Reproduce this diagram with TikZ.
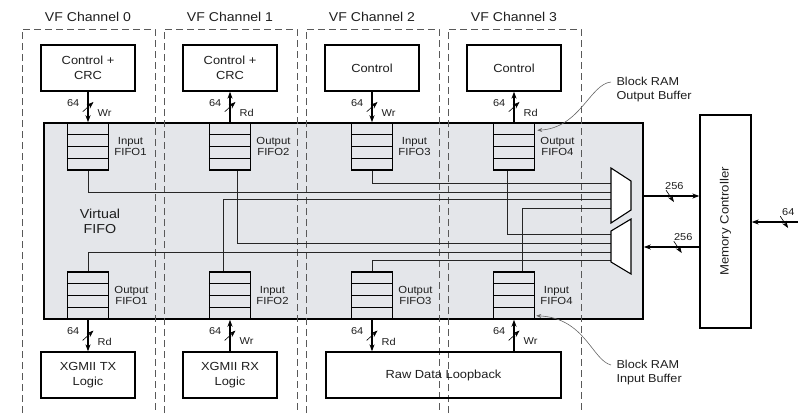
\documentclass[tikz,border=0pt]{standalone}
\usepackage{fontspec}
\setmainfont{Liberation Sans}[FakeStretch=1.1]
\usetikzlibrary{calc,positioning,arrows.meta}
\definecolor{vfgray}{RGB}{228,230,234}
\definecolor{ink}{RGB}{30,30,30}

\begin{document}
\begin{tikzpicture}[x=1pt,y=-1pt,
    every node/.style={text=ink},
    blk/.style={draw=black, line width=1.3pt, minimum width=94pt, minimum height=46pt, align=center, font=\fontsize{11.7}{15}\selectfont},
    fifo/.style={draw=black, line width=1.5pt, minimum width=41pt, minimum height=47pt, inner sep=0pt},
    fifolbl/.style={align=center, inner sep=1pt, font=\fontsize{10.3}{11.5}\selectfont},
    bus/.style={line width=1.4pt, -{Stealth[length=7pt,width=5pt]}},
    wire/.style={black!85, line width=0.75pt},
    num/.style={inner sep=0pt, font=\fontsize{10}{12}\selectfont},
    wlft/.style={num, anchor=east, xshift=-8pt, yshift=4pt},
    wrgt/.style={num, anchor=west, xshift=9pt, yshift=-6pt},
    slash/.style={minimum width=11pt, minimum height=10pt, inner sep=0pt, path picture={\draw[line width=.6pt] (path picture bounding box.south west) -- (path picture bounding box.north east);}},
    hslash/.style={minimum width=8pt, minimum height=12pt, inner sep=0pt, path picture={\draw[line width=.6pt] (path picture bounding box.north west) -- (path picture bounding box.south east);}},
    chan/.style={black!65, line width=1pt, dash pattern=on 7pt off 4pt},
    note/.style={black!60, line width=0.6pt, -{Stealth[length=5pt,width=4pt]}}]
\useasboundingbox (0,0) rectangle (798,413);
\def \dx {142}

\node[draw=black, fill=vfgray, line width=1.6pt, minimum width=599pt, minimum height=196pt, inner sep=0pt] (vfifo) at (343.5,221) {};
\node[align=center, font=\fontsize{13}{15}\selectfont] (vlbl) at (100,221) {Virtual\\FIFO};

% channel frames
\foreach \i in {0,...,3}
{
\draw[chan] (88+\dx*\i-66,413) -- (88+\dx*\i-66,29) -- (88+\dx*\i+67,29) -- (88+\dx*\i+67,413);
\node[font=\fontsize{12.8}{14}\selectfont] (title\i) at (88+\dx*\i,17) {VF Channel \i};
}

\node[blk] (ctl0) at (88,68) {Control +\\CRC};
\node[blk] (ctl1) at (230,68) {Control +\\CRC};
\node[blk] (ctl2) at (372,68) {Control};
\node[blk] (ctl3) at (514,68) {Control};

\node[blk] (tx) at (88,375) {XGMII TX\\Logic};
\node[blk] (rx) at (230,375) {XGMII RX\\Logic};
\node[blk, minimum width=235pt] (loop) at (443.5,375) {Raw Data Loopback};

\node[draw=black, line width=1.3pt, minimum width=51pt, minimum height=213pt] (mem) at (725.5,221.5) {};
\node[rotate=90, font=\fontsize{12}{14}\selectfont] (memlbl) at (mem) {Memory Controller};

\foreach \k/\tl/\bl in {1/Input/Output,2/Output/Input,3/Input/Output,4/Output/Input}
{
\node[fifo] (tf\k) at (88+\dx*\k-\dx,146.5) {};
\node[fifo] (bf\k) at (88+\dx*\k-\dx,295.5) {};
\node[fifolbl, right=4pt of tf\k] (tl\k) {\tl\\FIFO\k};
\node[fifolbl, right=4pt of bf\k] (bl\k) {\bl\\FIFO\k};
\foreach \r in {1,2,3}
{
\draw[line width=.8pt] ($(tf\k.north west)!\r/4!(tf\k.south west)$) -- ($(tf\k.north east)!\r/4!(tf\k.south east)$);
\draw[line width=.8pt] ($(bf\k.north west)!\r/4!(bf\k.south west)$) -- ($(bf\k.north east)!\r/4!(bf\k.south east)$);
}
}

% wires to the muxes
\foreach \n/\y in {a/183,b/192,c/199,d/208,e/234,f/243,g/252,h/260}
  \coordinate (m\n) at (611,\y);
\draw[wire] (tf3.south) |- (ma);
\draw[wire] (tf1.south) |- (mb);
\draw[wire] ([xshift=-7pt]bf2.north) |- (mc);
\draw[wire] ([xshift=8pt]bf4.north) |- (md);
\draw[wire] ([xshift=-7pt]tf4.south) |- (me);
\draw[wire] ([xshift=7pt]tf2.south) |- (mf);
\draw[wire] (bf1.north) |- (mg);
\draw[wire] (bf3.north) |- (mh);

\draw[line width=1.1pt, fill=white] (611,168) -- (631,181) -- (631,210) -- (611,223) -- cycle;
\draw[line width=1.1pt, fill=white] (611,231) -- (631,219) -- (631,274) -- (611,262) -- cycle;
\coordinate (mo) at (631,196);
\coordinate (mi) at (631,247);
\coordinate (ext) at (798,222);

% 64 bit buses
\foreach \i/\a/\b/\rw in {0/ctl0/tf1/Wr,1/tf2/ctl1/Rd,2/ctl2/tf3/Wr,3/tf4/ctl3/Rd}
  \draw[bus] (\a) -- node[slash, midway] (ts\i) {} node[wlft, midway] (tn\i) {64} node[wrgt, midway] (tw\i) {\rw} (\b);
\draw[bus] (bf1) -- node[slash, midway] (bs0) {} node[wlft, midway] (bn0) {64} node[wrgt, midway] (bw0) {Rd} (tx);
\draw[bus] (rx) -- node[slash, midway] (bs1) {} node[wlft, midway] (bn1) {64} node[wrgt, midway] (bw1) {Wr} (bf2);
\draw[bus] (bf3) -- node[slash, midway] (bs2) {} node[wlft, midway] (bn2) {64} node[wrgt, midway] (bw2) {Rd} (bf3 |- loop.north);
\draw[bus] (loop.north -| bf4) -- node[slash, midway] (bs3) {} node[wlft, midway] (bn3) {64} node[wrgt, midway] (bw3) {Wr} (bf4);

\draw[bus] (vfifo.east |- mo) -- node[hslash, pos=.47] (hs0) {} node[num, above=5.5pt, pos=.55] (hn0) {256} (mem.west |- mo);
\draw[bus] (mem.west |- mi) -- node[hslash, pos=.39] (hs1) {} node[num, above=5.5pt, pos=.29] (hn1) {256} (vfifo.east |- mi);
\draw[bus] (ext) -- node[hslash, pos=.3] (hs2) {} node[num, above=6pt, pos=.21] (hn2) {64} (mem.east |- ext);

\node[align=left, anchor=west, font=\fontsize{11.5}{14}\selectfont] (obuf) at (613,90) {Block RAM\\Output Buffer};
\node[align=left, anchor=west, font=\fontsize{11.5}{14}\selectfont] (ibuf) at (613,373) {Block RAM\\Input Buffer};
\draw[note] ($(obuf.west)+(-2,-8)$) .. controls (590,84) and (580,128) .. ($(tf4.north east)+(2,8)$);
\draw[note] ($(ibuf.west)+(-2,-8)$) .. controls (592,360) and (585,318) .. ($(bf4.south east)+(1,-4)$);
\end{tikzpicture}
\end{document}
